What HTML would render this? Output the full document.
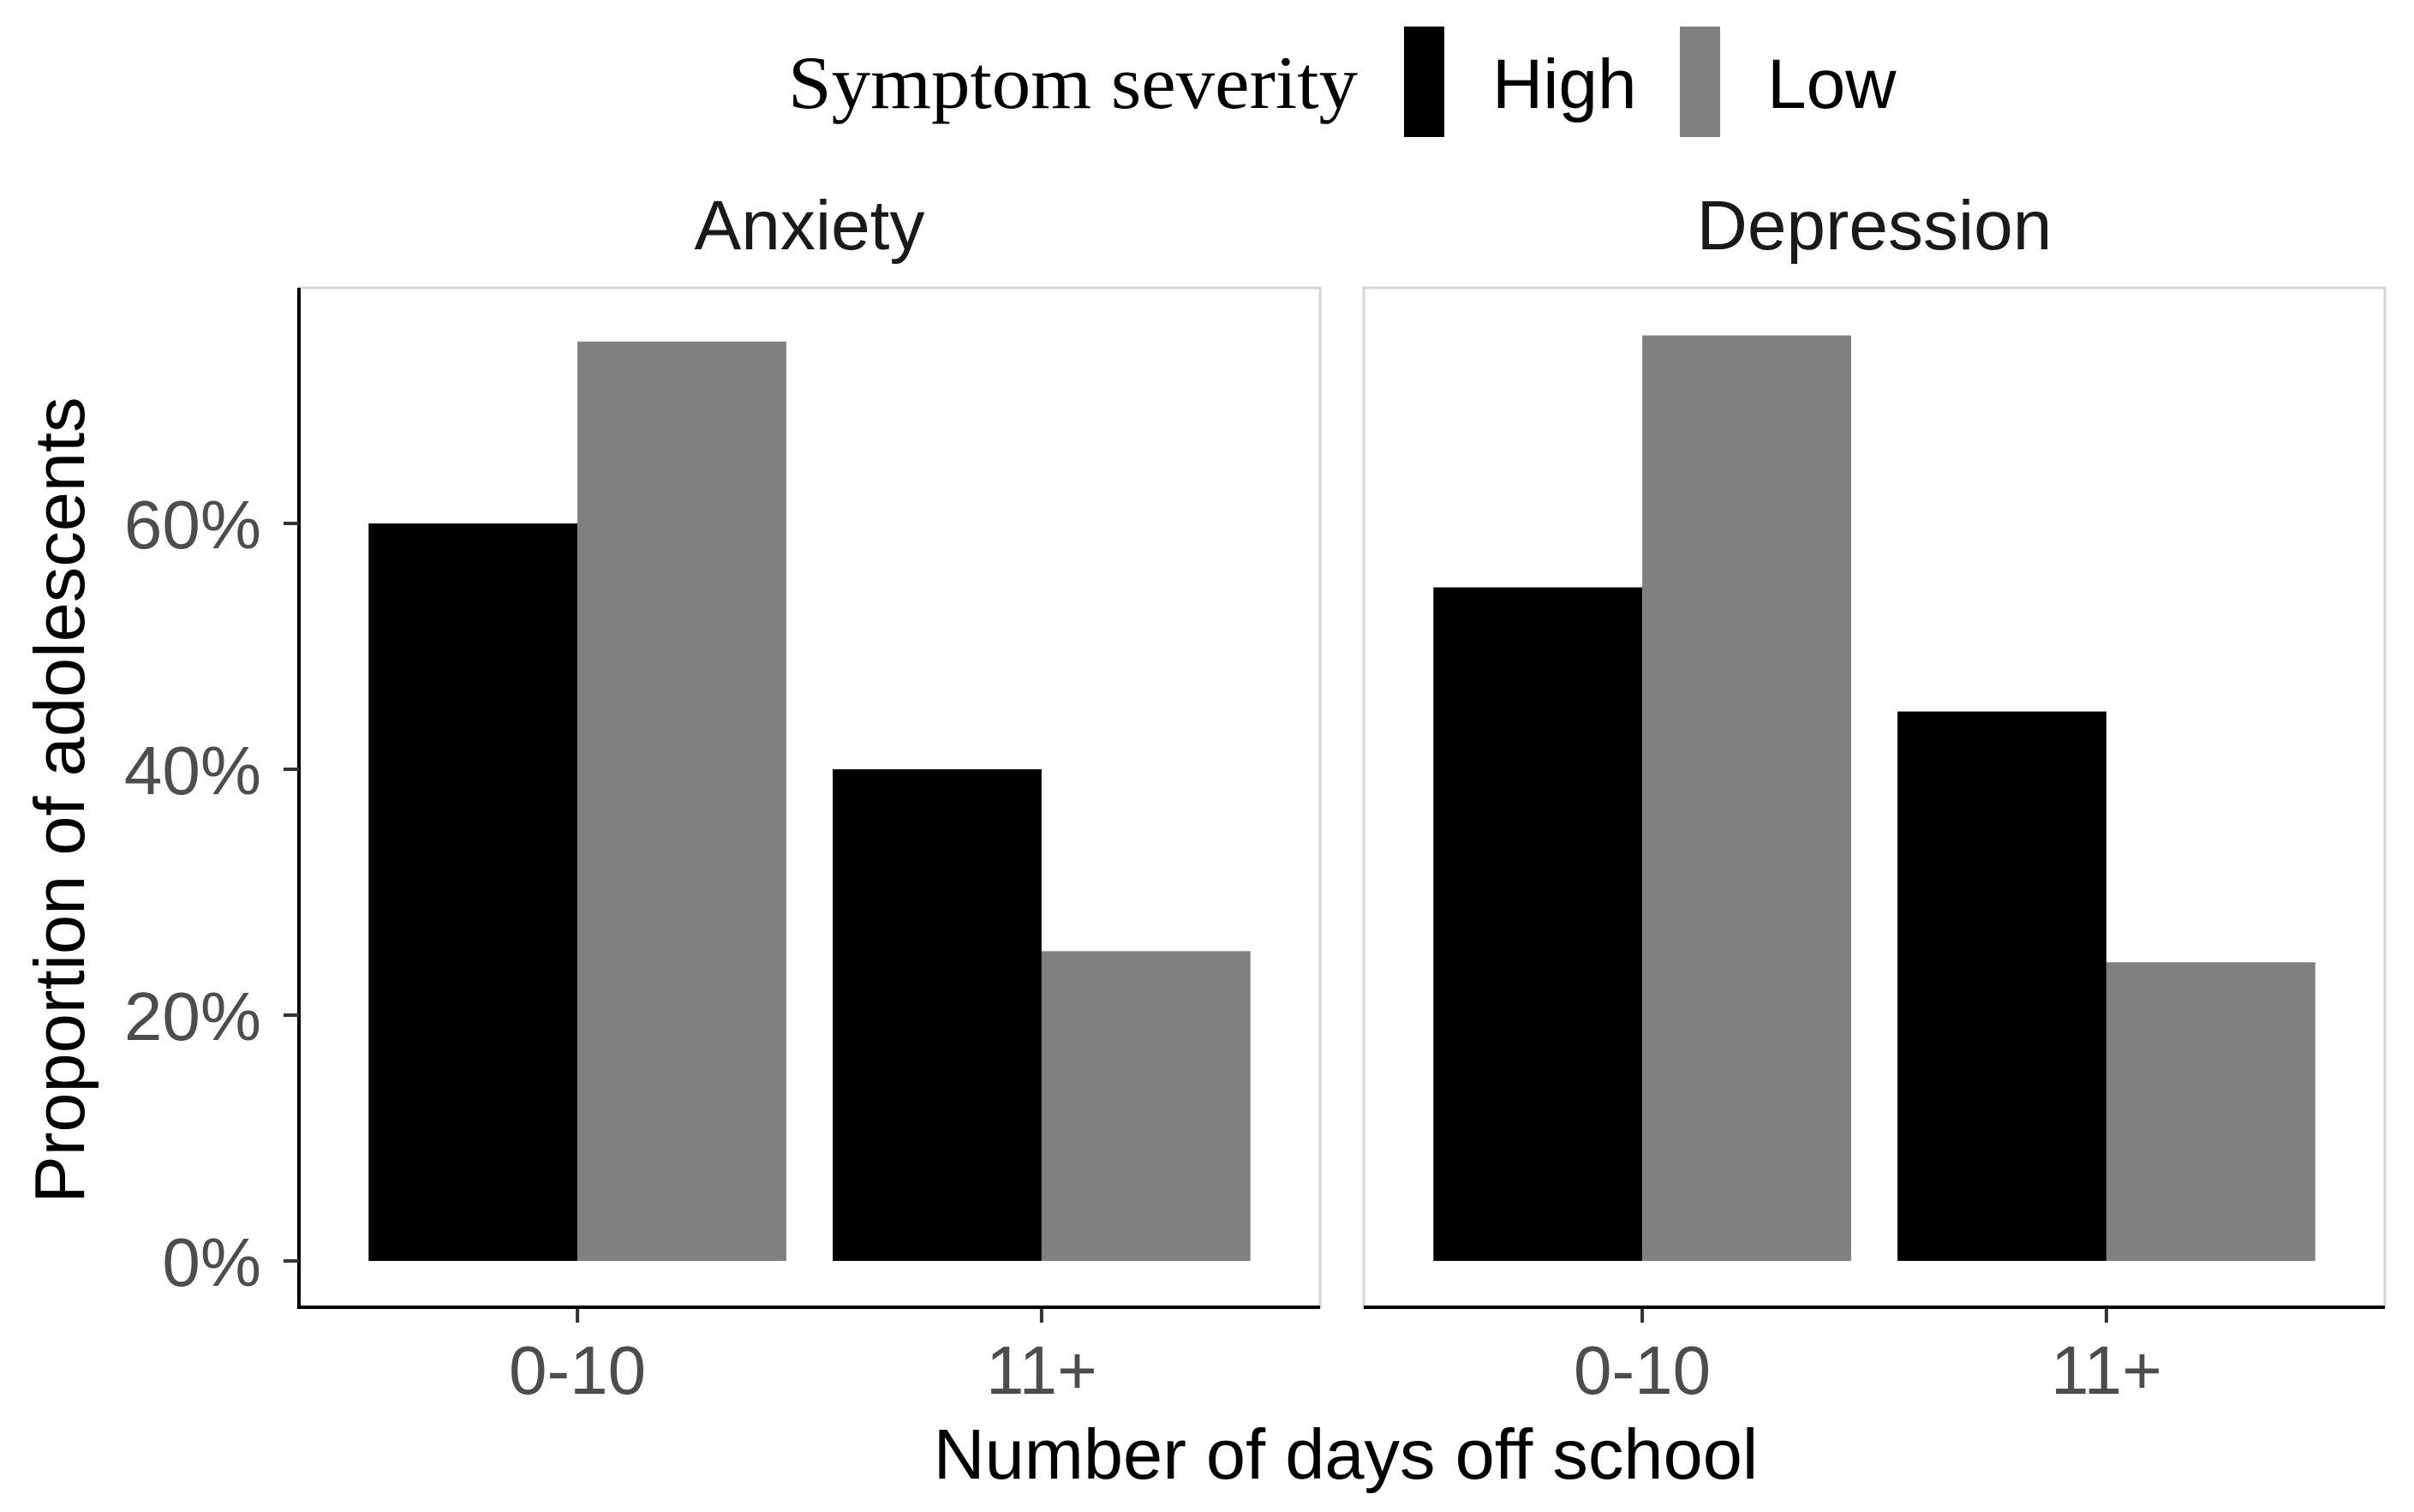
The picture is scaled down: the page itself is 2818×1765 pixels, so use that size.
<!DOCTYPE html>
<html><head><meta charset="utf-8"><style>html,body{margin:0;padding:0;background:#fff;}svg{display:block;}</style></head>
<body>
<svg id="chart" xmlns="http://www.w3.org/2000/svg" width="2818" height="1765" viewBox="0 0 2818 1765">
<rect x="0" y="0" width="2818" height="1765" fill="#fff"/>
<g id="legend">
  <text x="920" y="126" font-family="Liberation Serif, serif" font-size="88" textLength="665" lengthAdjust="spacingAndGlyphs" fill="#000">Symptom severity</text>
  <rect x="1639" y="31" width="47" height="129" fill="#000"/>
  <text x="1742" y="126" font-family="Liberation Sans, sans-serif" font-size="82" fill="#000">High</text>
  <rect x="1961" y="31" width="47" height="129" fill="#808080"/>
  <text x="2063" y="126" font-family="Liberation Sans, sans-serif" font-size="82" fill="#000">Low</text>
</g>
<g id="plot"></g>
<text x="1571" y="1726" text-anchor="middle" font-family="Liberation Sans, sans-serif" font-size="83" fill="#000">Number of days off school</text>
<text transform="translate(98,934) rotate(-90)" text-anchor="middle" font-family="Liberation Sans, sans-serif" font-size="83" fill="#000">Proportion of adolescents</text>
</svg>
<script>
const panels = ["Anxiety", "Depression"];
const categories = ["0-10", "11+"];
const highValues = { Anxiety: [60, 40], Depression: [54.8, 44.7] };
const lowValues = { Anxiety: [74.8, 25.2], Depression: [75.3, 24.3] };
const yTicks = [0, 20, 40, 60];
const yTickLabels = ["0%", "20%", "40%", "60%"];

const NS = "http://www.w3.org/2000/svg";
const plot = document.getElementById('plot');
const panelX = [349, 1592];
const panelW = 1192;
const panelTop = 336, panelBottom = 1526;
const yMax = 75.4;
const yExp = 0.05 * yMax;
function yScale(v) { return panelBottom - (v + yExp) / (yMax + 2 * yExp) * (panelBottom - panelTop); }
function xScale(p, pos) { return panelX[p] + (pos - 0.4) / 2.2 * panelW; }
function mk(tag, attrs) { const e = document.createElementNS(NS, tag); for (const k in attrs) e.setAttribute(k, attrs[k]); return e; }

panels.forEach((name, p) => {
  const g = mk('g', {});
  
  
  plot.appendChild(g);
  const border = mk('rect', { x: panelX[p], y: panelTop, width: panelW, height: panelBottom - panelTop, fill: 'none', stroke: '#d6d6d6', 'stroke-width': 3 });
  
  
  g.appendChild(border);
  const strip = mk('text', { x: panelX[p] + panelW / 2, y: 291, 'text-anchor': 'middle', 'font-family': 'Liberation Sans, sans-serif', 'font-size': 82, fill: '#1a1a1a' });
  strip.textContent = name;
  
  
  g.appendChild(strip);
  categories.forEach((c, i) => {
    const ctr = i + 1;
    const y0 = yScale(0);
    const hb = highValues[name][i], lb = lowValues[name][i];
    const rh = mk('rect', { x: xScale(p, ctr - 0.45), y: yScale(hb), width: xScale(p, ctr) - xScale(p, ctr - 0.45), height: y0 - yScale(hb), fill: '#000' });
    
    
    g.appendChild(rh);
    const rl = mk('rect', { x: xScale(p, ctr), y: yScale(lb), width: xScale(p, ctr + 0.45) - xScale(p, ctr), height: y0 - yScale(lb), fill: '#808080' });
    
    
    g.appendChild(rl);
    const tk = mk('line', { x1: xScale(p, ctr), x2: xScale(p, ctr), y1: panelBottom, y2: panelBottom + 18, stroke: '#333', 'stroke-width': 4 });
    
    
    g.appendChild(tk);
    const tl = mk('text', { x: xScale(p, ctr), y: 1627, 'text-anchor': 'middle', 'font-family': 'Liberation Sans, sans-serif', 'font-size': 80, fill: '#4d4d4d' });
    tl.textContent = c;
    
    
    g.appendChild(tl);
  });
  const xa = mk('line', { x1: panelX[p], x2: panelX[p] + panelW, y1: panelBottom, y2: panelBottom, stroke: '#000', 'stroke-width': 4 });
  
  
  g.appendChild(xa);
});

const ya = mk('line', { x1: panelX[0], x2: panelX[0], y1: panelTop, y2: panelBottom + 2, stroke: '#000', 'stroke-width': 4 });


plot.appendChild(ya);
yTicks.forEach((t, i) => {
  const y = yScale(t);
  const tk = mk('line', { x1: panelX[0] - 18, x2: panelX[0], y1: y, y2: y, stroke: '#333', 'stroke-width': 4 });
  
  
  plot.appendChild(tk);
  const tl = mk('text', { x: 305, y: y + 29, 'text-anchor': 'end', 'font-family': 'Liberation Sans, sans-serif', 'font-size': 80, fill: '#4d4d4d' });
  tl.textContent = yTickLabels[i];
  
  
  plot.appendChild(tl);
});
</script>
</body></html>
